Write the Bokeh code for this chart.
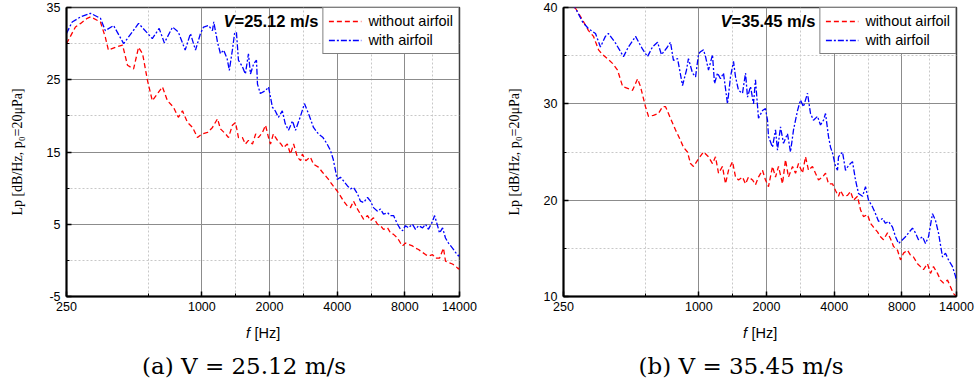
from bokeh.plotting import figure
from bokeh.models import Range1d, FixedTicker, NumeralTickFormatter, Label, Legend, LegendItem
from bokeh.layouts import row, column
from bokeh.embed import file_html
from bokeh.resources import INLINE

# ---------------- data ----------------
x_ticks = [250, 1000, 2000, 4000, 8000, 14000]
x_minor = [579, 1414, 2828, 5657, 10583]

# (a) V = 25.12 m/s
freq_a_without = [250, 274, 289, 309, 320, 354, 372, 384, 413, 444, 467, 497, 523, 545, 573, 602, 668, 703,
                  748, 786, 820, 863, 909, 956, 1000, 1060, 1115, 1174, 1210, 1275, 1314, 1367, 1412, 1455,
                  1515, 1562, 1612, 1680, 1735, 1785, 1860, 1920, 1980, 2020, 2080, 2170, 2250, 2308, 2400,
                  2479, 2560, 2660, 2750, 2800, 2900, 3040, 3138, 3300, 3440, 3660, 3736, 3840, 4000, 4138,
                  4268, 4445, 4584, 4728, 4925, 5078, 5240, 5458, 5625, 5800, 6045, 6233, 6428, 6700, 6905,
                  7125, 7420, 7650, 7810, 8050, 8300, 8650, 8920, 9200, 9590, 9885, 10190, 10620, 10950,
                  11410, 11880, 12130, 12500, 13030, 13440, 13860, 14000]
lp_a_without = [30.0, 32.3, 32.8, 33.5, 33.7, 33.0, 30.9, 29.1, 29.5, 29.8, 27.0, 26.5, 29.5, 28.6, 24.9, 22.1,
                24.0, 22.1, 21.2, 19.8, 20.7, 19.1, 18.4, 17.0, 17.5, 17.7, 18.4, 19.6, 18.2, 17.5, 17.0, 18.7,
                19.1, 17.0, 17.0, 16.1, 16.6, 16.1, 17.5, 17.0, 17.7, 18.7, 17.0, 16.1, 17.5, 16.6, 16.1, 15.6,
                16.1, 14.7, 16.1, 14.3, 13.8, 14.7, 13.8, 14.3, 13.3, 12.9, 12.2, 11.2, 10.8, 10.3, 9.6, 8.9,
                8.2, 7.5, 7.3, 8.2, 7.1, 6.4, 5.7, 6.2, 5.5, 5.9, 5.0, 4.8, 4.3, 4.5, 3.8, 3.6, 3.1, 2.4, 2.0,
                2.4, 2.2, 2.0, 1.7, 1.5, 1.1, 0.8, 0.6, 0.8, 0.3, 0.3, 1.7, -0.1, -0.3, -0.5, -0.8, -1.2, -1.0]

freq_a_with = [250, 265, 289, 320, 354, 372, 405, 449, 523, 602, 646, 681, 741, 786, 843, 890, 937, 986, 1018,
               1071, 1115, 1130, 1174, 1210, 1250, 1296, 1325, 1367, 1398, 1425, 1455, 1515, 1562, 1612, 1645,
               1700, 1750, 1768, 1820, 1920, 1980, 2060, 2120, 2190, 2280, 2350, 2430, 2530, 2610, 2750, 2860,
               2983, 3138, 3300, 3460, 3610, 3736, 3840, 3933, 4000, 4138, 4268, 4445, 4584, 4728, 4925, 5078,
               5240, 5458, 5625, 5800, 6045, 6233, 6428, 6700, 6905, 7125, 7420, 7650, 7810, 8050, 8300, 8650,
               8920, 9200, 9590, 9885, 10190, 10620, 10850, 11180, 11410, 11770, 12130, 12500, 13030, 13440,
               13860, 14000]
lp_a_with = [31.4, 33.0, 33.7, 34.2, 33.5, 31.8, 32.5, 30.0, 32.8, 30.7, 32.1, 30.1, 32.3, 31.6, 29.1, 31.4,
             29.1, 31.4, 32.3, 32.5, 31.8, 33.0, 30.2, 28.6, 29.1, 27.9, 26.3, 29.1, 31.4, 31.6, 27.7, 26.8,
             25.8, 28.6, 25.8, 27.2, 27.7, 24.4, 23.1, 23.5, 24.0, 21.2, 20.7, 19.8, 20.7, 18.9, 18.0, 19.3,
             18.0, 20.0, 21.7, 20.3, 18.4, 17.5, 17.0, 16.1, 15.2, 14.0, 12.4, 11.2, 11.5, 11.0, 10.3, 9.9,
             10.1, 9.2, 8.2, 8.0, 8.7, 8.2, 7.3, 6.8, 7.1, 6.4, 6.6, 6.2, 6.2, 5.0, 4.3, 4.1, 4.8, 4.5, 5.0,
             4.3, 4.8, 4.5, 5.0, 4.3, 5.4, 6.2, 4.8, 3.8, 4.5, 3.1, 2.4, 1.7, 1.1, 0.6, 0.8]

y_ticks_a = [-5, 5, 15, 25, 35]
y_minor_a = [0, 10, 20, 30]

# (b) V = 35.45 m/s
freq_b_without = [250, 283, 304, 323, 340, 358, 373, 392, 413, 435, 458, 482, 507, 534, 550, 579, 597, 628, 661,
                  689, 711, 748, 787, 829, 854, 890, 918, 947, 997, 1049, 1104, 1150, 1186, 1223, 1274, 1314,
                  1355, 1412, 1456, 1501, 1564, 1613, 1663, 1733, 1786, 1842, 1919, 1979, 2041, 2126, 2193,
                  2261, 2356, 2429, 2505, 2610, 2692, 2776, 2891, 2982, 3075, 3202, 3302, 3406, 3549, 3660,
                  3774, 3932, 4055, 4181, 4268, 4401, 4584, 4728, 4875, 5078, 5238, 5401, 5627, 5803, 5983,
                  6233, 6428, 6628, 6905, 7121, 7345, 7652, 7891, 8135, 8475, 8739, 9012, 9388, 9680, 9985,
                  10400, 10725, 11060, 11522, 11883, 12255, 12767, 13165, 13577, 14000]
lp_b_without = [41.2, 39.9, 38.7, 37.6, 37.0, 35.6, 35.1, 34.7, 34.2, 33.5, 31.8, 31.6, 31.4, 32.6, 31.8, 29.7,
                28.7, 28.8, 29.0, 29.7, 29.7, 28.5, 27.3, 26.2, 25.5, 25.0, 23.8, 23.5, 24.3, 25.0, 24.5, 23.8,
                24.5, 22.8, 23.5, 21.7, 23.1, 24.0, 22.4, 22.1, 22.4, 21.7, 22.4, 22.1, 21.6, 22.4, 23.1, 22.1,
                21.4, 23.5, 22.4, 23.5, 21.7, 24.2, 22.4, 23.5, 22.8, 23.8, 22.8, 24.5, 23.1, 23.5, 22.8, 22.1,
                22.4, 22.8, 21.7, 21.7, 21.0, 20.4, 21.0, 20.4, 20.5, 20.9, 20.0, 20.4, 19.0, 18.3, 18.5, 17.6,
                17.2, 16.7, 16.2, 15.9, 16.6, 16.0, 15.2, 14.8, 13.8, 14.5, 14.8, 14.3, 14.1, 13.4, 13.1, 12.8,
                13.4, 12.4, 13.1, 12.4, 11.7, 11.4, 11.7, 11.0, 10.3, 10.0]

freq_b_with = [250, 283, 304, 323, 347, 365, 384, 396, 426, 462, 486, 523, 561, 591, 622, 655, 682, 725, 748,
               771, 804, 846, 881, 899, 937, 967, 997, 1017, 1049, 1071, 1104, 1150, 1174, 1211, 1248, 1287,
               1341, 1383, 1426, 1456, 1501, 1564, 1613, 1646, 1698, 1750, 1786, 1842, 1919, 1979, 2020, 2041,
               2126, 2193, 2238, 2308, 2380, 2479, 2557, 2637, 2747, 2833, 2920, 3043, 3138, 3235, 3372, 3477,
               3586, 3660, 3774, 3852, 3932, 4055, 4138, 4181, 4356, 4492, 4632, 4826, 4975, 5131, 5346, 5513,
               5686, 5923, 6107, 6298, 6561, 6765, 6977, 7269, 7497, 7732, 8054, 8304, 8562, 8919, 9198, 9484,
               9884, 10190, 10508, 10947, 11290, 11642, 12130, 12508, 12898, 13438, 13858, 14000]
lp_b_with = [41.3, 39.9, 38.5, 37.8, 37.3, 35.9, 37.0, 37.3, 36.3, 34.9, 35.9, 37.0, 35.7, 34.9, 35.9, 36.4,
             35.1, 35.9, 36.4, 34.5, 34.7, 31.9, 33.5, 34.7, 33.2, 32.8, 35.2, 35.4, 35.6, 34.9, 33.5, 35.1,
             32.1, 33.2, 32.6, 33.2, 30.0, 32.8, 34.4, 32.8, 31.4, 31.1, 33.2, 30.7, 31.8, 30.0, 32.5, 28.5,
             29.3, 29.5, 28.3, 26.6, 25.5, 27.3, 25.2, 27.6, 25.9, 26.9, 25.0, 27.3, 29.3, 30.4, 29.7, 31.1,
             29.0, 28.3, 28.7, 27.8, 28.3, 29.0, 26.6, 25.5, 24.9, 23.5, 23.1, 24.5, 25.0, 23.1, 23.6, 24.0,
             22.1, 20.7, 20.4, 21.4, 20.0, 19.3, 18.6, 17.8, 18.1, 17.6, 17.8, 17.2, 16.2, 15.5, 15.9, 16.2,
             16.6, 17.1, 16.6, 15.9, 16.2, 15.5, 16.2, 18.6, 17.9, 16.6, 14.1, 14.5, 13.8, 13.1, 12.1, 11.6]

y_ticks_b = [10, 20, 30, 40]
y_minor_b = [15, 25, 35]

labels_series = ["without airfoil", "with airfoil"]
speed_titles = ["=25.12 m/s", "=35.45 m/s"]
captions = ["(a)\u00a0V = 25.12 m/s", "(b)\u00a0V = 35.45 m/s"]
y_label = "Lp [dB/Hz, p\u2080=20\u03bcPa]"

SANS = "Liberation Sans"
SERIF = "Liberation Serif"


def make_panel(fw, vw, fa, va, ylo, yhi, yt, ym, vtitle, left, right, width):
    p = figure(width=width, height=316, x_axis_type="log",
               x_range=Range1d(250, 14000), y_range=Range1d(ylo, yhi),
               output_backend="svg", toolbar_location=None,
               min_border_left=left, min_border_right=right,
               min_border_top=7, min_border_bottom=20)
    p.background_fill_color = "white"
    p.border_fill_color = "white"
    p.outline_line_color = "#404040"
    p.outline_line_width = 1.5

    p.xaxis.ticker = FixedTicker(ticks=x_ticks, minor_ticks=x_minor)
    p.yaxis.ticker = FixedTicker(ticks=yt, minor_ticks=ym)
    p.xaxis.formatter = NumeralTickFormatter(format="0")
    p.yaxis.major_label_overrides = {t: str(t) for t in yt}

    for ax in (p.xaxis, p.yaxis):
        ax.axis_line_color = "black"
        ax.axis_line_width = 2
        ax.major_tick_in = 5
        ax.major_tick_out = 0
        ax.minor_tick_in = 3
        ax.minor_tick_out = 0
        ax.major_tick_line_color = "black"
        ax.major_tick_line_width = 1.5
        ax.minor_tick_line_color = "black"
        ax.major_label_text_font = SANS
        ax.major_label_text_font_size = "12.5px"
        ax.major_label_text_color = "black"
    p.xaxis.major_label_standoff = 5
    p.yaxis.major_label_standoff = 6
    p.yaxis.axis_label = y_label
    p.yaxis.axis_label_text_font = SERIF
    p.yaxis.axis_label_text_font_size = "14px"
    p.yaxis.axis_label_text_font_style = "normal"
    p.yaxis.axis_label_text_color = "black"
    p.yaxis.axis_label_standoff = 19

    for g in (p.xgrid, p.ygrid):
        g.grid_line_color = "#8c8c8c"
        g.grid_line_width = 1
        g.minor_grid_line_color = "#c8c8c8"
        g.minor_grid_line_dash = "2 2"
        g.minor_grid_line_width = 1

    r1 = p.line(fw, vw, line_color="#ff0000", line_width=1.3, line_dash="5 3")
    r2 = p.line(fa, va, line_color="#0000ff", line_width=1.3, line_dash="6 2 2 2")

    leg = Legend(items=[LegendItem(label=labels_series[0], renderers=[r1]),
                        LegendItem(label=labels_series[1], renderers=[r2])],
                 location="top_right")
    leg.margin = 0
    leg.padding = 5
    leg.spacing = 3
    leg.glyph_width = 33
    leg.glyph_height = 14
    leg.label_height = 14
    leg.label_standoff = 7
    leg.label_text_font = SANS
    leg.label_text_font_size = "14.5px"
    leg.label_text_color = "black"
    leg.border_line_color = "black"
    leg.border_line_width = 1.5
    leg.background_fill_color = "white"
    leg.background_fill_alpha = 1
    p.add_layout(leg)

    p.add_layout(Label(x=157, y=276, x_units="screen", y_units="screen", text="V",
                       text_font=SANS, text_font_style="bold italic", text_font_size="16.5px",
                       text_color="black", text_baseline="middle", text_align="left"))
    p.add_layout(Label(x=168, y=276, x_units="screen", y_units="screen", text=vtitle,
                       text_font=SANS, text_font_style="bold", text_font_size="16.5px",
                       text_color="black", text_baseline="middle", text_align="left"))
    return p


def make_footer(width, left, caption):
    c = figure(width=width, height=70, x_range=Range1d(0, width), y_range=Range1d(0, 70),
               output_backend="svg", toolbar_location=None,
               min_border_left=0, min_border_right=0, min_border_top=0, min_border_bottom=0)
    c.axis.visible = False
    c.grid.visible = False
    c.outline_line_color = None
    c.background_fill_color = "white"
    c.border_fill_color = "white"
    cx = left + 393 / 2
    c.add_layout(Label(x=cx - 17, y=54, text="f", text_font=SANS, text_font_style="italic",
                       text_font_size="14.5px", text_color="black",
                       text_baseline="middle", text_align="left"))
    c.add_layout(Label(x=cx - 8.5, y=54, text="[Hz]", text_font=SANS,
                       text_font_size="14.5px", text_color="black",
                       text_baseline="middle", text_align="left"))
    c.add_layout(Label(x=cx - 19, y=21, text=caption, text_font="DejaVu Serif",
                       text_font_size="23px", text_color="black",
                       text_baseline="middle", text_align="center"))
    return c


p1 = make_panel(freq_a_without, lp_a_without, freq_a_with, lp_a_with, -5, 35, y_ticks_a, y_minor_a,
                speed_titles[0], 66, 29, 488)
p2 = make_panel(freq_b_without, lp_b_without, freq_b_with, lp_b_with, 10, 40, y_ticks_b, y_minor_b,
                speed_titles[1], 75, 21, 489)
f1 = make_footer(488, 66, captions[0])
f2 = make_footer(489, 75, captions[1])

layout = column(row(p1, p2), row(f1, f2))
open("out.html", "w").write(file_html(layout, INLINE))
